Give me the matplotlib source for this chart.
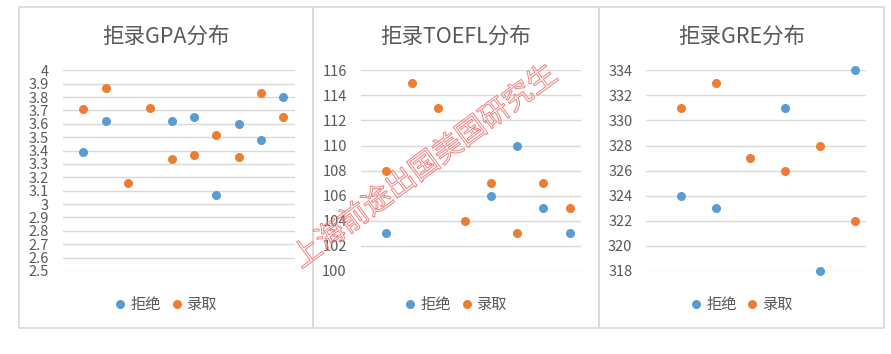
import matplotlib.pyplot as plt
import matplotlib.patheffects as pe
from matplotlib.patches import Rectangle
from matplotlib.ticker import FuncFormatter

plt.rcParams['font.family'] = ['Noto Sans CJK SC', 'DejaVu Sans']

blue = "#5B9BD5"
orange = "#ED7D31"
grey_text = "#595959"
grid_col = "#D9D9D9"

# GPA
gpa_reject_x = [1, 2, 5, 6, 7, 8, 9, 10]
gpa_reject = [3.39, 3.62, 3.62, 3.65, 3.07, 3.60, 3.48, 3.80]
gpa_admit_x = [1, 2, 3, 4, 5, 6, 7, 8, 9, 10]
gpa_admit = [3.71, 3.87, 3.16, 3.72, 3.34, 3.37, 3.52, 3.355, 3.83, 3.65]

# TOEFL
toefl_reject_x = [1, 5, 6, 7, 8]
toefl_reject = [103, 106, 110, 105, 103]
toefl_admit_x = [1, 2, 3, 4, 5, 6, 7, 8]
toefl_admit = [108, 115, 113, 104, 107, 103, 107, 105]

# GRE
gre_reject_x = [1, 2, 4, 5, 6]
gre_reject = [324, 323, 331, 318, 334]
gre_admit_x = [1, 2, 3, 4, 5, 6]
gre_admit = [331, 333, 327, 326, 328, 322]

W, H = 891, 354
fig = plt.figure(figsize=(W / 100, H / 100), dpi=100)


def fx(px):
    return px / W


def fy(py):
    return 1 - py / H


panels = [
    # title, reject, admit, panel px range, axes px range, xlim, ylim, ystep
    ("拒录GPA分布", (gpa_reject_x, gpa_reject), (gpa_admit_x, gpa_admit),
     (19, 313), (62.7, 295), (0.07, 10.54), (2.5, 4.0), 0.1),
    ("拒录TOEFL分布", (toefl_reject_x, toefl_reject), (toefl_admit_x, toefl_admit),
     (313, 599), (360.7, 580.7), (0.036, 8.42), (100, 116), 2),
    ("拒录GRE分布", (gre_reject_x, gre_reject), (gre_admit_x, gre_admit),
     (599, 884), (646.3, 865.7), (0.0, 6.32), (318, 334), 2),
]

y_top, y_bot = 70.3, 271

for title, rej, adm, (p0, p1), (a0, a1), xlim, ylim, step in panels:
    fig.patches.append(Rectangle((fx(p0), fy(328)), fx(p1 - p0), (328 - 7) / H,
                                 transform=fig.transFigure, fill=False,
                                 edgecolor=grid_col, lw=1.2))
    ax = fig.add_axes([fx(a0), fy(y_bot), fx(a1 - a0), (y_bot - y_top) / H])
    ax.scatter(rej[0], rej[1], s=30, color=blue, label="拒绝", zorder=3, clip_on=False)
    ax.scatter(adm[0], adm[1], s=30, color=orange, label="录取", zorder=3, clip_on=False)
    ax.set_xlim(*xlim)
    ax.set_ylim(*ylim)
    n = int(round((ylim[1] - ylim[0]) / step))
    ax.set_yticks([ylim[0] + i * step for i in range(n + 1)])
    ax.yaxis.set_major_formatter(FuncFormatter(lambda v, p: f"{round(v, 2):g}"))
    ax.set_xticks([])
    ax.grid(axis="y", color=grid_col, lw=1)
    ax.set_axisbelow(True)
    for s in ax.spines.values():
        s.set_visible(False)
    ax.tick_params(axis="y", length=0, pad=10, labelsize=10.5, labelcolor=grey_text)
    ax.patch.set_alpha(0)

    cx = (p0 + p1) / 2
    fig.text(fx(cx), fy(36.5), title, ha="center", va="center",
             fontsize=15.5, color=grey_text)
    ax.legend(loc="center", bbox_to_anchor=(fx(cx), fy(304)),
              bbox_transform=fig.transFigure, ncol=2, frameon=False,
              fontsize=11, handlelength=0.8, handletextpad=0.3,
              columnspacing=0.6, scatterpoints=1, labelcolor=grey_text,
              borderpad=0)

# watermark (outline only)
fig.text(fx(425), fy(167), "上海前途出国美国研究生", ha="center", va="center",
         rotation=36.5, rotation_mode="anchor", fontsize=21, color=(1, 1, 1, 0),
         path_effects=[pe.Stroke(linewidth=0.7, foreground="#EE8080")],
         zorder=5)

fig.savefig("out.png", dpi=100)
